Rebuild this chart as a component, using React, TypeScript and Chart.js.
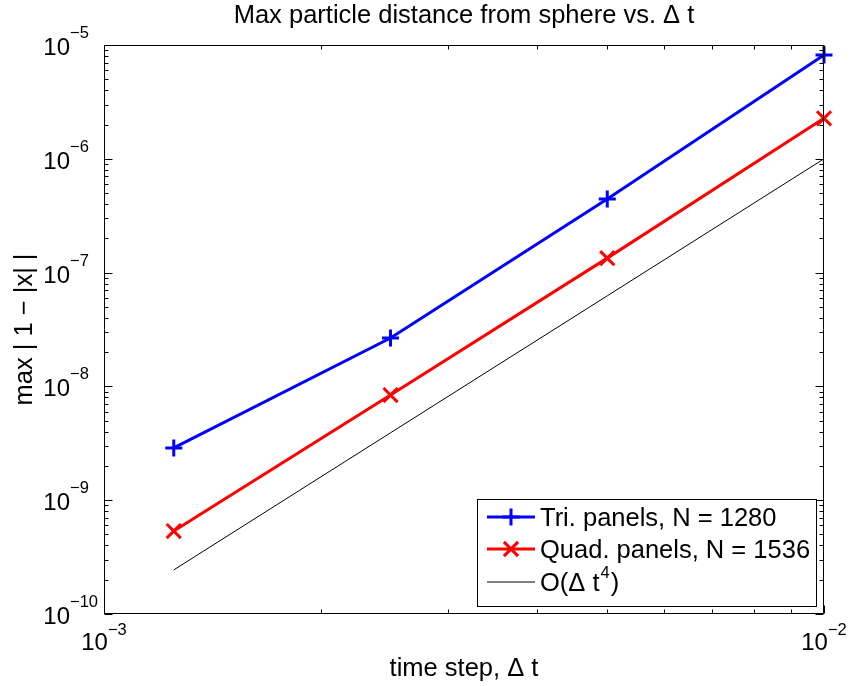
import React, { useEffect, useRef } from "react";
import { Chart, registerables } from "chart.js";

Chart.register(...registerables);

const xValues = [0.00125, 0.0025, 0.005, 0.01];
const triValues = [2.88e-9, 2.66e-8, 4.43e-7, 8.17e-6];
const quadValues = [5.36e-10, 8.4e-9, 1.34e-7, 2.27e-6];
const orderValues = [2.44e-10, 3.91e-9, 6.25e-8, 1.0e-6];
const xTickExponents = [-3, -2];
const yTickExponents = [-10, -9, -8, -7, -6, -5];
const seriesLabels = ["Tri. panels, N = 1280", "Quad. panels, N = 1536", "O(Δ t⁴)"];
const titleText = "Max particle distance from sphere vs. Δ t";
const xLabelText = "time step, Δ t";
const yLabelText = "max | 1 − |x| |";

const FONT = "'Liberation Sans', Arial, Helvetica, sans-serif";
const MINUS = "\u2212";

function pts(ys: number[]) {
  return xValues.map((x, i) => ({ x, y: ys[i] }));
}

const axesPlugin = {
  id: "matlabAxes",
  afterDraw(chart: any) {
    const ctx: CanvasRenderingContext2D = chart.ctx;
    const { left, right, top, bottom } = chart.chartArea;
    const xs = chart.scales.x;
    const ys = chart.scales.y;
    ctx.save();
    ctx.strokeStyle = "#000";
    ctx.lineWidth = 1;
    const L = Math.round(left) + 0.5;
    const R = Math.round(right) - 0.5;
    const T = Math.round(top) + 0.5;
    const B = Math.round(bottom) - 0.5;
    ctx.beginPath();
    ctx.rect(L, T, R - L, B - T);
    ctx.stroke();

    // y ticks
    ctx.beginPath();
    for (let e = yTickExponents[0]; e <= yTickExponents[yTickExponents.length - 1]; e++) {
      const maxM = e === yTickExponents[yTickExponents.length - 1] ? 1 : 9;
      for (let m = 1; m <= maxM; m++) {
        const py = Math.round(ys.getPixelForValue(m * Math.pow(10, e))) + 0.5;
        const len = m === 1 ? 8 : 4;
        ctx.moveTo(L, py);
        ctx.lineTo(L + len, py);
        ctx.moveTo(R, py);
        ctx.lineTo(R - len, py);
      }
    }
    // x ticks
    for (let e = xTickExponents[0]; e <= xTickExponents[xTickExponents.length - 1]; e++) {
      const maxM = e === xTickExponents[xTickExponents.length - 1] ? 1 : 9;
      for (let m = 1; m <= maxM; m++) {
        const px = Math.round(xs.getPixelForValue(m * Math.pow(10, e))) + 0.5;
        const len = m === 1 ? 8 : 4;
        ctx.moveTo(px, B);
        ctx.lineTo(px, B - len);
        ctx.moveTo(px, T);
        ctx.lineTo(px, T + len);
      }
    }
    ctx.stroke();

    // tick labels
    ctx.fillStyle = "#000";
    const baseFont = "24px " + FONT;
    const expFont = "16.5px " + FONT;
    ctx.textBaseline = "alphabetic";
    for (const e of yTickExponents) {
      const py = ys.getPixelForValue(Math.pow(10, e));
      ctx.font = baseFont;
      ctx.textAlign = "right";
      ctx.fillText("10", 70, py + 10);
      ctx.font = expFont;
      ctx.textAlign = "left";
      ctx.fillText(MINUS + String(-e), 70, py - 7);
    }
    for (const e of xTickExponents) {
      const px = xs.getPixelForValue(Math.pow(10, e));
      ctx.font = baseFont;
      const w1 = ctx.measureText("10").width;
      ctx.font = expFont;
      const expStr = MINUS + String(-e);
      const w2 = ctx.measureText(expStr).width;
      const start = px - (w1 + w2) / 2;
      ctx.font = baseFont;
      ctx.textAlign = "left";
      ctx.fillText("10", start, bottom + 36);
      ctx.font = expFont;
      ctx.fillText(expStr, start + w1, bottom + 21);
    }

    // title & axis labels
    const labelFont = "25.5px " + FONT;
    const cx = (left + right) / 2;
    ctx.font = labelFont;
    ctx.textAlign = "center";
    ctx.fillText(titleText, cx, 23);
    ctx.fillText(xLabelText, cx, 676);
    ctx.save();
    ctx.translate(32, (top + bottom) / 2);
    ctx.rotate(-Math.PI / 2);
    ctx.fillText(yLabelText, 0, 0);
    ctx.restore();

    // legend
    const lx = 477.5, ly = 499.5, lw = 339, lh = 107;
    ctx.fillStyle = "#fff";
    ctx.fillRect(lx, ly, lw, lh);
    ctx.strokeStyle = "#000";
    ctx.lineWidth = 1;
    ctx.strokeRect(lx, ly, lw, lh);
    const rows = [517, 549, 582];
    const dsets = chart.data.datasets;
    rows.forEach((ry, i) => {
      const ds = dsets[i];
      ctx.strokeStyle = ds.borderColor;
      ctx.lineWidth = ds.borderWidth;
      ctx.beginPath();
      ctx.moveTo(487, ry);
      ctx.lineTo(535, ry);
      ctx.stroke();
      if (ds.pointStyle && ds.pointRadius > 0) {
        ctx.lineWidth = ds.pointBorderWidth;
        ctx.beginPath();
        if (ds.pointStyle === "cross") {
          const r = ds.pointRadius;
          ctx.moveTo(511 - r, ry);
          ctx.lineTo(511 + r, ry);
          ctx.moveTo(511, ry - r);
          ctx.lineTo(511, ry + r);
        } else {
          const r = ds.pointRadius * Math.SQRT1_2;
          ctx.moveTo(511 - r, ry - r);
          ctx.lineTo(511 + r, ry + r);
          ctx.moveTo(511 - r, ry + r);
          ctx.lineTo(511 + r, ry - r);
        }
        ctx.stroke();
      }
      ctx.fillStyle = "#000";
      ctx.textAlign = "left";
      ctx.font = labelFont;
      if (i < 2) {
        ctx.fillText(ds.label, 540, ry + 9);
      } else {
        const a = "O(Δ t";
        ctx.fillText(a, 540, ry + 9);
        const wa = ctx.measureText(a).width;
        ctx.font = expFont;
        ctx.fillText("4", 540 + wa + 1, ry - 4);
        const wb = ctx.measureText("4").width;
        ctx.font = labelFont;
        ctx.fillText(")", 540 + wa + wb + 2, ry + 9);
      }
    });
    ctx.restore();
  },
};

export default function App() {
  const ref = useRef<HTMLCanvasElement | null>(null);
  useEffect(() => {
    if (!ref.current) return;
    const chart = new Chart(ref.current, {
      type: "line",
      data: {
        datasets: [
          {
            label: seriesLabels[0],
            data: pts(triValues),
            borderColor: "#0000ff",
            backgroundColor: "#0000ff",
            borderWidth: 3,
            pointStyle: "cross",
            pointRadius: 8.5,
            pointBorderWidth: 3,
            pointBorderColor: "#0000ff",
            clip: false,
          } as any,
          {
            label: seriesLabels[1],
            data: pts(quadValues),
            borderColor: "#ff0000",
            backgroundColor: "#ff0000",
            borderWidth: 3,
            pointStyle: "crossRot",
            pointRadius: 10,
            pointBorderWidth: 3,
            pointBorderColor: "#ff0000",
            clip: false,
          } as any,
          {
            label: seriesLabels[2],
            data: pts(orderValues),
            borderColor: "#000000",
            backgroundColor: "#000000",
            borderWidth: 1,
            pointRadius: 0,
            clip: false,
          } as any,
        ],
      },
      options: {
        animation: false,
        responsive: false,
        devicePixelRatio: 1,
        layout: { padding: { left: 104, top: 45, right: 25, bottom: 72 } },
        plugins: { legend: { display: false }, tooltip: { enabled: false }, title: { display: false } },
        scales: {
          x: { type: "logarithmic", min: 1e-3, max: 1e-2, display: false },
          y: { type: "logarithmic", min: 1e-10, max: 1e-5, display: false },
        },
      },
      plugins: [axesPlugin],
    } as any);
    return () => chart.destroy();
  }, []);
  return (
    <div style={{ position: "absolute", left: 0, top: 0, width: 849, height: 686, background: "#fff" }}>
      <canvas ref={ref} width={849} height={686} />
    </div>
  );
}
